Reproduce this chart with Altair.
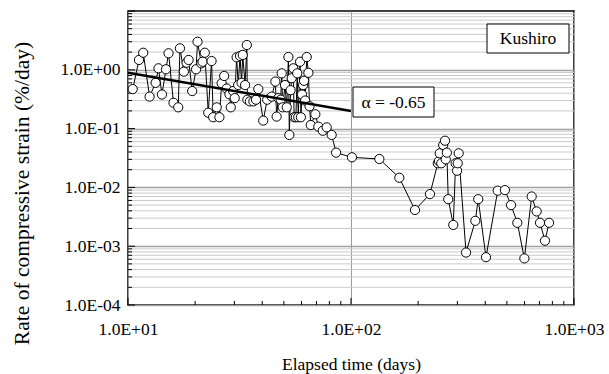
import altair as alt
import pandas as pd

# Elapsed time (days) and rate of compressive strain (%/day)
days = [10.5, 11.2, 11.7, 12.5, 13.3, 13.7, 14.2, 14.8, 15.2, 16.0,
        16.8, 17.1, 17.8, 18.3, 18.7, 19.4, 20.2, 20.5, 21.3, 21.6,
        22.1, 22.9, 23.7, 24.1, 25.0, 25.7, 26.3, 27.0, 27.7, 28.5,
        28.9, 29.6, 30.1, 30.7, 31.2, 31.8, 32.3, 32.7, 33.5, 34.1,
        34.3, 35.2, 36.5, 37.5, 38.4, 40.4, 42.1, 44.1, 45.8, 46.4,
        47.2, 48.4, 48.9, 49.4, 50.6, 51.5, 52.4, 52.9, 53.6, 54.2,
        55.1, 55.6, 56.6, 57.4, 58.0, 59.1, 59.6, 60.3, 61.0, 61.6,
        62.3, 63.3, 64.4, 65.2, 66.0, 69.2, 71.4, 74.7, 77.8, 81.9,
        85.7, 101, 134, 164.7, 193.6, 226, 245, 248, 250, 254,
        259, 264, 266, 269, 273, 287.5, 294.5, 299, 301, 304,
        328, 361, 372, 403, 455, 490, 522, 557, 599, 646,
        680, 704, 741, 773]
rate = [0.47, 1.47, 1.95, 0.35, 0.60, 1.06, 0.38, 1.02, 1.91, 0.275,
        0.23, 2.32, 0.93, 1.32, 1.47, 0.435, 1.02, 3.0, 1.29, 1.37,
        1.95, 0.186, 1.41, 0.156, 0.23, 0.156, 0.59, 0.785, 0.48, 0.383,
        0.23, 0.435, 0.33, 1.63, 0.55, 1.72, 0.60, 1.79, 0.55, 2.64,
        0.31, 0.29, 0.29, 0.31, 0.47, 0.137, 0.31, 0.35, 0.63, 0.16,
        0.33, 0.31, 0.87, 0.23, 0.55, 0.23, 1.65, 0.078, 0.45, 0.72,
        1.06, 0.156, 0.156, 0.87, 0.156, 1.37, 0.156, 0.38, 0.55, 0.65,
        0.30, 1.65, 0.89, 0.24, 0.115, 0.175, 0.108, 0.092, 0.105, 0.078,
        0.039, 0.0325, 0.0304, 0.0146, 0.00413, 0.0077, 0.0257, 0.028, 0.038, 0.0257,
        0.0526, 0.0622, 0.030, 0.039, 0.0063, 0.0023, 0.0257, 0.0192, 0.0257, 0.038,
        0.00078, 0.0027, 0.0063, 0.00065, 0.0088, 0.0090, 0.0050, 0.0025, 0.00062, 0.0070,
        0.0039, 0.0025, 0.00124, 0.0025]

# Power-law fit (alpha = -0.65), end points
fit_days = [10, 100]
fit_rate = [0.89, 0.20]

# Axis ticks / labels
x_major = [10, 100, 1000]
x_minor = [20, 30, 40, 50, 60, 70, 80, 90, 200, 300, 400, 500, 600, 700, 800, 900]
y_labels = [1e-4, 1e-3, 1e-2, 1e-1, 1e0]
y_major = [1e-4, 1e-3, 1e-2, 1e-1, 1e0, 1e1]
y_minor = [2e-4, 3e-4, 4e-4, 5e-4, 6e-4, 7e-4, 8e-4, 9e-4,
           2e-3, 3e-3, 4e-3, 5e-3, 6e-3, 7e-3, 8e-3, 9e-3,
           2e-2, 3e-2, 4e-2, 5e-2, 6e-2, 7e-2, 8e-2, 9e-2,
           2e-1, 3e-1, 4e-1, 5e-1, 6e-1, 7e-1, 8e-1, 9e-1,
           2e0, 3e0, 4e0, 5e0, 6e0, 7e0, 8e0, 9e0]

FONT = "Liberation Serif"
FS = 17.5
W, H = 446, 294

xscale = alt.Scale(type="log", domain=[10, 1000], nice=False)
yscale = alt.Scale(type="log", domain=[1e-4, 10], nice=False)

sci = ("'1.0E' + (datum.value < 1 ? '-' : '+') + "
       "(abs(round(log(datum.value)/LN10)) < 10 ? '0' : '') + "
       "abs(round(log(datum.value)/LN10))")

xaxis = alt.Axis(values=x_major, labelExpr=sci, title="Elapsed time (days)",
                 grid=True, gridColor="#9a9a9a", gridWidth=1, ticks=False, domain=False,
                 labelFont=FONT, labelFontSize=FS, labelColor="black", labelPadding=15,
                 titleFont=FONT, titleFontSize=FS, titleFontWeight="normal", titleColor="black",
                 titlePadding=18, labelFlush=False)
yaxis = alt.Axis(values=y_labels, labelExpr=sci, title="Rate of compressive strain (%/day)",
                 grid=True, gridColor="#a0a0a0", gridWidth=1.5, ticks=False, domain=False,
                 labelFont=FONT, labelFontSize=FS, labelColor="black", labelPadding=8,
                 titleFont=FONT, titleFontSize=21.5, titleFontWeight="normal", titleColor="black",
                 titleX=-106, titleY=182, titleAngle=270, titleAlign="center",
                 titleBaseline="middle", labelFlush=False)

X = lambda: alt.X("t:Q", scale=xscale, axis=xaxis)
Y = lambda: alt.Y("v:Q", scale=yscale, axis=yaxis)

df = pd.DataFrame({"t": days, "v": rate, "i": list(range(len(days)))})

minor_grid = alt.Chart(pd.DataFrame({"v": y_minor})).mark_rule(
    color="#cacaca", strokeWidth=1).encode(y=Y())

xminor_ticks = alt.Chart(pd.DataFrame({"t": x_minor})).mark_rule(color="black").encode(
    x=X(), y=alt.value(H), y2=alt.value(H - 4))
xmajor_ticks = alt.Chart(pd.DataFrame({"t": x_major})).mark_rule(color="black").encode(
    x=X(), y=alt.value(H), y2=alt.value(H - 7))
yminor_ticks = alt.Chart(pd.DataFrame({"v": y_minor})).mark_rule(color="black").encode(
    y=Y(), x=alt.value(0), x2=alt.value(4))
ymajor_ticks = alt.Chart(pd.DataFrame({"v": y_major})).mark_rule(color="black").encode(
    y=Y(), x=alt.value(0), x2=alt.value(7))

line = alt.Chart(df).mark_line(color="black", strokeWidth=1).encode(
    x=X(), y=Y(), order="i:Q")

points = alt.Chart(df).mark_circle(fill="white", stroke="black", strokeWidth=1,
                                    size=85, opacity=1, fillOpacity=1).encode(x=X(), y=Y())

fit = alt.Chart(pd.DataFrame({"t": fit_days, "v": fit_rate})).mark_line(
    color="black", strokeWidth=2.5).encode(x=X(), y=Y())

one = pd.DataFrame({"a": [0]})
alpha_box = alt.Chart(one).mark_rect(fill="white", stroke="black", strokeWidth=1).encode(
    x=alt.value(225), x2=alt.value(306), y=alt.value(76), y2=alt.value(106))
alpha_txt = alt.Chart(one).mark_text(text="α = -0.65", font=FONT, fontSize=FS,
                                     align="center", baseline="middle", color="black").encode(
    x=alt.value(265.5), y=alt.value(91.5))
site_box = alt.Chart(one).mark_rect(fill="white", stroke="black", strokeWidth=1).encode(
    x=alt.value(359), x2=alt.value(441), y=alt.value(13), y2=alt.value(42))
site_txt = alt.Chart(one).mark_text(text="Kushiro", font=FONT, fontSize=FS,
                                    align="center", baseline="middle", color="black").encode(
    x=alt.value(400), y=alt.value(28))

chart = alt.layer(minor_grid, line, xminor_ticks, xmajor_ticks, yminor_ticks, ymajor_ticks,
                  points, fit, alpha_box, alpha_txt, site_box, site_txt).properties(
    width=W, height=H,
    autosize=alt.AutoSizeParams(type="none"),
    padding={"left": 128, "top": 11, "right": 35, "bottom": 69},
    background="white",
).configure_view(stroke="black", strokeWidth=1.5)

chart.save("out.html", embed_options={"renderer": "svg", "actions": False})
